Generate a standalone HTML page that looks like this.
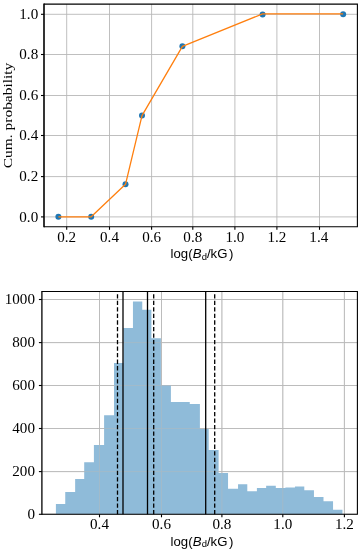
<!DOCTYPE html>
<html><head><meta charset="utf-8"><style>
html,body{margin:0;padding:0;background:#fff;}
body{width:363px;height:551px;overflow:hidden;font-family:"Liberation Sans", sans-serif;}
svg{display:block;will-change:transform;}
</style></head><body>
<svg width="363" height="551" viewBox="0 0 363 551">
<line x1="66.7" y1="4.1" x2="66.7" y2="226.8" stroke="#b8b8b8" stroke-width="0.9"/>
<line x1="109.5" y1="4.1" x2="109.5" y2="226.8" stroke="#b8b8b8" stroke-width="0.9"/>
<line x1="151.6" y1="4.1" x2="151.6" y2="226.8" stroke="#b8b8b8" stroke-width="0.9"/>
<line x1="192.8" y1="4.1" x2="192.8" y2="226.8" stroke="#b8b8b8" stroke-width="0.9"/>
<line x1="234.9" y1="4.1" x2="234.9" y2="226.8" stroke="#b8b8b8" stroke-width="0.9"/>
<line x1="276.9" y1="4.1" x2="276.9" y2="226.8" stroke="#b8b8b8" stroke-width="0.9"/>
<line x1="319.5" y1="4.1" x2="319.5" y2="226.8" stroke="#b8b8b8" stroke-width="0.9"/>
<line x1="44.0" y1="216.9" x2="357.4" y2="216.9" stroke="#b8b8b8" stroke-width="0.9"/>
<line x1="44.0" y1="176.6" x2="357.4" y2="176.6" stroke="#b8b8b8" stroke-width="0.9"/>
<line x1="44.0" y1="135.5" x2="357.4" y2="135.5" stroke="#b8b8b8" stroke-width="0.9"/>
<line x1="44.0" y1="95.5" x2="357.4" y2="95.5" stroke="#b8b8b8" stroke-width="0.9"/>
<line x1="44.0" y1="54.5" x2="357.4" y2="54.5" stroke="#b8b8b8" stroke-width="0.9"/>
<line x1="44.0" y1="14.3" x2="357.4" y2="14.3" stroke="#b8b8b8" stroke-width="0.9"/>
<line x1="66.7" y1="226.8" x2="66.7" y2="229.8" stroke="#000" stroke-width="1.1"/>
<line x1="109.5" y1="226.8" x2="109.5" y2="229.8" stroke="#000" stroke-width="1.1"/>
<line x1="151.6" y1="226.8" x2="151.6" y2="229.8" stroke="#000" stroke-width="1.1"/>
<line x1="192.8" y1="226.8" x2="192.8" y2="229.8" stroke="#000" stroke-width="1.1"/>
<line x1="234.9" y1="226.8" x2="234.9" y2="229.8" stroke="#000" stroke-width="1.1"/>
<line x1="276.9" y1="226.8" x2="276.9" y2="229.8" stroke="#000" stroke-width="1.1"/>
<line x1="319.5" y1="226.8" x2="319.5" y2="229.8" stroke="#000" stroke-width="1.1"/>
<line x1="41" y1="216.9" x2="44.0" y2="216.9" stroke="#000" stroke-width="1.1"/>
<line x1="41" y1="176.6" x2="44.0" y2="176.6" stroke="#000" stroke-width="1.1"/>
<line x1="41" y1="135.5" x2="44.0" y2="135.5" stroke="#000" stroke-width="1.1"/>
<line x1="41" y1="95.5" x2="44.0" y2="95.5" stroke="#000" stroke-width="1.1"/>
<line x1="41" y1="54.5" x2="44.0" y2="54.5" stroke="#000" stroke-width="1.1"/>
<line x1="41" y1="14.3" x2="44.0" y2="14.3" stroke="#000" stroke-width="1.1"/>
<circle cx="58.4" cy="216.8" r="3" fill="#1f77b4"/>
<circle cx="91.2" cy="216.8" r="3" fill="#1f77b4"/>
<circle cx="125.5" cy="184.3" r="3" fill="#1f77b4"/>
<circle cx="142.0" cy="115.6" r="3" fill="#1f77b4"/>
<circle cx="182.4" cy="46.3" r="3" fill="#1f77b4"/>
<circle cx="262.6" cy="14.4" r="3" fill="#1f77b4"/>
<circle cx="343.15" cy="14.35" r="3" fill="#1f77b4"/>
<path d="M58.4,216.8 L91.2,216.8 L125.5,184.3 L142.0,115.6 L182.4,46.3 L262.6,13.9 L343.1,13.85" fill="none" stroke="#ff7f0e" stroke-width="1.3" stroke-linejoin="round"/>
<path d="M44,3.55 L44,227.35" stroke="#000" stroke-width="1.6"/><path d="M44,4.1 L357.95,4.1 M357.4,4.1 L357.4,226.8 M44,226.8 L357.95,226.8" stroke="#000" stroke-width="1.1" fill="none"/>
<text x="66.7" y="241.8" font-family='"Liberation Serif", serif' font-size="14" text-anchor="middle" textLength="18.90" lengthAdjust="spacingAndGlyphs">0.2</text>
<text x="109.5" y="241.8" font-family='"Liberation Serif", serif' font-size="14" text-anchor="middle" textLength="18.90" lengthAdjust="spacingAndGlyphs">0.4</text>
<text x="151.6" y="241.8" font-family='"Liberation Serif", serif' font-size="14" text-anchor="middle" textLength="18.90" lengthAdjust="spacingAndGlyphs">0.6</text>
<text x="192.8" y="241.8" font-family='"Liberation Serif", serif' font-size="14" text-anchor="middle" textLength="18.90" lengthAdjust="spacingAndGlyphs">0.8</text>
<text x="234.9" y="241.8" font-family='"Liberation Serif", serif' font-size="14" text-anchor="middle" textLength="18.90" lengthAdjust="spacingAndGlyphs">1.0</text>
<text x="276.9" y="241.8" font-family='"Liberation Serif", serif' font-size="14" text-anchor="middle" textLength="18.90" lengthAdjust="spacingAndGlyphs">1.2</text>
<text x="318.8" y="241.8" font-family='"Liberation Serif", serif' font-size="14" text-anchor="middle" textLength="18.90" lengthAdjust="spacingAndGlyphs">1.4</text>
<text x="38.2" y="221.6" font-family='"Liberation Serif", serif' font-size="14" text-anchor="end" textLength="18.90" lengthAdjust="spacingAndGlyphs">0.0</text>
<text x="38.2" y="181.3" font-family='"Liberation Serif", serif' font-size="14" text-anchor="end" textLength="18.90" lengthAdjust="spacingAndGlyphs">0.2</text>
<text x="38.2" y="140.2" font-family='"Liberation Serif", serif' font-size="14" text-anchor="end" textLength="18.90" lengthAdjust="spacingAndGlyphs">0.4</text>
<text x="38.2" y="100.2" font-family='"Liberation Serif", serif' font-size="14" text-anchor="end" textLength="18.90" lengthAdjust="spacingAndGlyphs">0.6</text>
<text x="38.2" y="59.2" font-family='"Liberation Serif", serif' font-size="14" text-anchor="end" textLength="18.90" lengthAdjust="spacingAndGlyphs">0.8</text>
<text x="38.2" y="19" font-family='"Liberation Serif", serif' font-size="14" text-anchor="end" textLength="18.90" lengthAdjust="spacingAndGlyphs">1.0</text>
<text transform="translate(11.9,168.2) rotate(-90)" font-family='"Liberation Serif", serif' font-size="13.5" textLength="105.5" lengthAdjust="spacingAndGlyphs">Cum. probability</text>
<text transform="translate(170.6,258) scale(1.1,1)" font-family='"Liberation Sans", sans-serif' font-size="12">log(<tspan font-style="italic" dx="0.2">B</tspan><tspan font-size="8.6" dy="1.5">d</tspan><tspan dy="-1.5">/kG</tspan><tspan dx="1.5">)</tspan></text>
<g opacity="1"><line x1="99.5" y1="291.5" x2="99.5" y2="514.3" stroke="#b8b8b8" stroke-width="0.9"/><line x1="161.5" y1="291.5" x2="161.5" y2="514.3" stroke="#b8b8b8" stroke-width="0.9"/><line x1="221.9" y1="291.5" x2="221.9" y2="514.3" stroke="#b8b8b8" stroke-width="0.9"/><line x1="282.8" y1="291.5" x2="282.8" y2="514.3" stroke="#b8b8b8" stroke-width="0.9"/><line x1="344.4" y1="291.5" x2="344.4" y2="514.3" stroke="#b8b8b8" stroke-width="0.9"/><line x1="41.9" y1="514.3" x2="357.4" y2="514.3" stroke="#b8b8b8" stroke-width="0.9"/><line x1="41.9" y1="471.6" x2="357.4" y2="471.6" stroke="#b8b8b8" stroke-width="0.9"/><line x1="41.9" y1="428.5" x2="357.4" y2="428.5" stroke="#b8b8b8" stroke-width="0.9"/><line x1="41.9" y1="385.5" x2="357.4" y2="385.5" stroke="#b8b8b8" stroke-width="0.9"/><line x1="41.9" y1="342.6" x2="357.4" y2="342.6" stroke="#b8b8b8" stroke-width="0.9"/><line x1="41.9" y1="299.5" x2="357.4" y2="299.5" stroke="#b8b8b8" stroke-width="0.9"/></g>
<path d="M55.9,514.3 L55.9,504 L65.25,504 L65.25,492 L75.15,492 L75.15,479.1 L84.2,479.1 L84.2,462.3 L93.9,462.3 L93.9,445 L104.1,445 L104.1,415.2 L114,415.2 L114,363 L123.35,363 L123.35,328 L132.95,328 L132.95,301.6 L142.25,301.6 L142.25,309.8 L151.4,309.8 L151.4,338.2 L160.9,338.2 L160.9,385.3 L170.9,385.3 L170.9,402 L180.4,402 L180.4,402 L189.75,402 L189.75,404 L199.9,404 L199.9,429 L208.7,429 L208.7,450 L218.6,450 L218.6,473 L228.05,473 L228.05,488.8 L238.05,488.8 L238.05,484.3 L247.3,484.3 L247.3,491.2 L256.9,491.2 L256.9,488.1 L266.15,488.1 L266.15,485.8 L275.8,485.8 L275.8,488.1 L285.4,488.1 L285.4,487.4 L294.95,487.4 L294.95,486.5 L304.3,486.5 L304.3,490.2 L313.95,490.2 L313.95,497 L323.5,497 L323.5,501.2 L333.05,501.2 L333.05,509.8 L342.45,509.8 L342.45,514.3 Z" fill="#8fbbd9"/>
<g opacity="0.5"><line x1="99.5" y1="291.5" x2="99.5" y2="514.3" stroke="#b8b8b8" stroke-width="0.9"/><line x1="161.5" y1="291.5" x2="161.5" y2="514.3" stroke="#b8b8b8" stroke-width="0.9"/><line x1="221.9" y1="291.5" x2="221.9" y2="514.3" stroke="#b8b8b8" stroke-width="0.9"/><line x1="282.8" y1="291.5" x2="282.8" y2="514.3" stroke="#b8b8b8" stroke-width="0.9"/><line x1="344.4" y1="291.5" x2="344.4" y2="514.3" stroke="#b8b8b8" stroke-width="0.9"/><line x1="41.9" y1="514.3" x2="357.4" y2="514.3" stroke="#b8b8b8" stroke-width="0.9"/><line x1="41.9" y1="471.6" x2="357.4" y2="471.6" stroke="#b8b8b8" stroke-width="0.9"/><line x1="41.9" y1="428.5" x2="357.4" y2="428.5" stroke="#b8b8b8" stroke-width="0.9"/><line x1="41.9" y1="385.5" x2="357.4" y2="385.5" stroke="#b8b8b8" stroke-width="0.9"/><line x1="41.9" y1="342.6" x2="357.4" y2="342.6" stroke="#b8b8b8" stroke-width="0.9"/><line x1="41.9" y1="299.5" x2="357.4" y2="299.5" stroke="#b8b8b8" stroke-width="0.9"/></g>
<line x1="123.0" y1="291.5" x2="123.0" y2="514.3" stroke="#000" stroke-width="1.3"/>
<line x1="147.5" y1="291.5" x2="147.5" y2="514.3" stroke="#000" stroke-width="1.3"/>
<line x1="205.7" y1="291.5" x2="205.7" y2="514.3" stroke="#000" stroke-width="1.3"/>
<line x1="117.5" y1="514.3" x2="117.5" y2="291.5" stroke="#000" stroke-width="1.3" stroke-dasharray="4.3 2.24"/>
<line x1="153.7" y1="514.3" x2="153.7" y2="291.5" stroke="#000" stroke-width="1.3" stroke-dasharray="4.3 2.24"/>
<line x1="214.7" y1="514.3" x2="214.7" y2="291.5" stroke="#000" stroke-width="1.3" stroke-dasharray="4.3 2.24"/>
<line x1="99.5" y1="514.3" x2="99.5" y2="517.3" stroke="#000" stroke-width="1.1"/>
<line x1="161.5" y1="514.3" x2="161.5" y2="517.3" stroke="#000" stroke-width="1.1"/>
<line x1="221.9" y1="514.3" x2="221.9" y2="517.3" stroke="#000" stroke-width="1.1"/>
<line x1="282.8" y1="514.3" x2="282.8" y2="517.3" stroke="#000" stroke-width="1.1"/>
<line x1="344.4" y1="514.3" x2="344.4" y2="517.3" stroke="#000" stroke-width="1.1"/>
<line x1="38.9" y1="514.3" x2="41.9" y2="514.3" stroke="#000" stroke-width="1.1"/>
<line x1="38.9" y1="471.6" x2="41.9" y2="471.6" stroke="#000" stroke-width="1.1"/>
<line x1="38.9" y1="428.5" x2="41.9" y2="428.5" stroke="#000" stroke-width="1.1"/>
<line x1="38.9" y1="385.5" x2="41.9" y2="385.5" stroke="#000" stroke-width="1.1"/>
<line x1="38.9" y1="342.6" x2="41.9" y2="342.6" stroke="#000" stroke-width="1.1"/>
<line x1="38.9" y1="299.5" x2="41.9" y2="299.5" stroke="#000" stroke-width="1.1"/>
<path d="M41.9,290.95 L41.9,514.85" stroke="#000" stroke-width="1.3"/><path d="M41.9,291.5 L357.95,291.5 M357.4,291.5 L357.4,514.3 M41.9,514.3 L357.95,514.3" stroke="#000" stroke-width="1.1" fill="none"/>
<text x="99.5" y="528.8" font-family='"Liberation Serif", serif' font-size="14" text-anchor="middle" textLength="18.90" lengthAdjust="spacingAndGlyphs">0.4</text>
<text x="161.5" y="528.8" font-family='"Liberation Serif", serif' font-size="14" text-anchor="middle" textLength="18.90" lengthAdjust="spacingAndGlyphs">0.6</text>
<text x="221.9" y="528.8" font-family='"Liberation Serif", serif' font-size="14" text-anchor="middle" textLength="18.90" lengthAdjust="spacingAndGlyphs">0.8</text>
<text x="282.8" y="528.8" font-family='"Liberation Serif", serif' font-size="14" text-anchor="middle" textLength="18.90" lengthAdjust="spacingAndGlyphs">1.0</text>
<text x="344.4" y="528.8" font-family='"Liberation Serif", serif' font-size="14" text-anchor="middle" textLength="18.90" lengthAdjust="spacingAndGlyphs">1.2</text>
<text x="35" y="518.9" font-family='"Liberation Serif", serif' font-size="14" text-anchor="end" textLength="7.56" lengthAdjust="spacingAndGlyphs">0</text>
<text x="35" y="476.2" font-family='"Liberation Serif", serif' font-size="14" text-anchor="end" textLength="22.68" lengthAdjust="spacingAndGlyphs">200</text>
<text x="35" y="433.1" font-family='"Liberation Serif", serif' font-size="14" text-anchor="end" textLength="22.68" lengthAdjust="spacingAndGlyphs">400</text>
<text x="35" y="390.1" font-family='"Liberation Serif", serif' font-size="14" text-anchor="end" textLength="22.68" lengthAdjust="spacingAndGlyphs">600</text>
<text x="35" y="347.2" font-family='"Liberation Serif", serif' font-size="14" text-anchor="end" textLength="22.68" lengthAdjust="spacingAndGlyphs">800</text>
<text x="35" y="304.1" font-family='"Liberation Serif", serif' font-size="14" text-anchor="end" textLength="30.24" lengthAdjust="spacingAndGlyphs">1000</text>
<text transform="translate(170.6,545.8) scale(1.1,1)" font-family='"Liberation Sans", sans-serif' font-size="12">log(<tspan font-style="italic" dx="0.2">B</tspan><tspan font-size="8.6" dy="1.5">d</tspan><tspan dy="-1.5">/kG</tspan><tspan dx="1.5">)</tspan></text>
</svg>
</body></html>
